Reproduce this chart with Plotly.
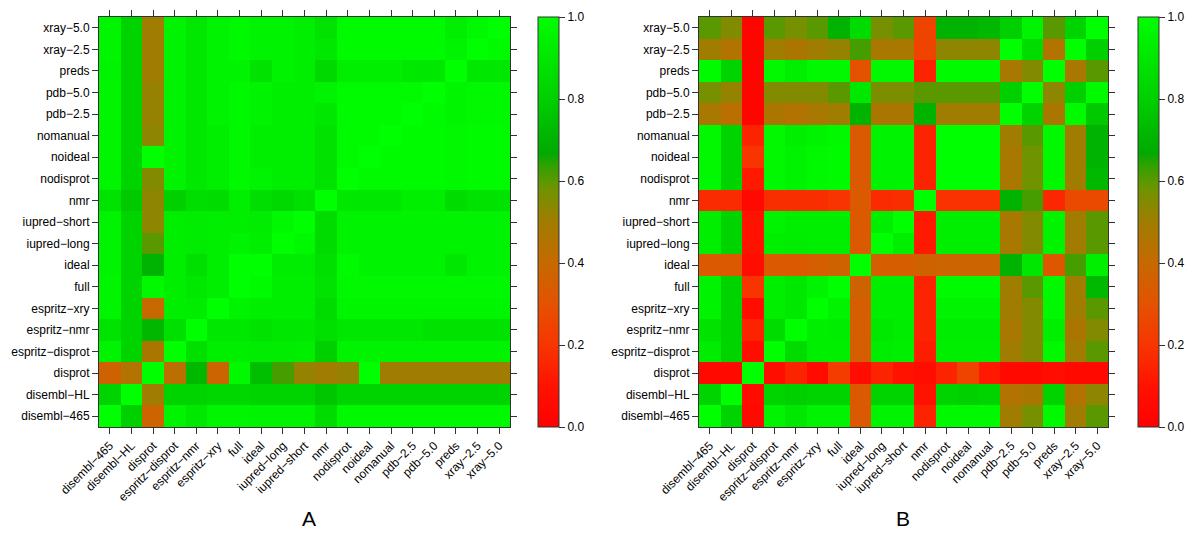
import plotly.graph_objects as go

categories = ["disembl-465", "disembl-HL", "disprot", "espritz-disprot", "espritz-nmr",
              "espritz-xry", "full", "ideal", "iupred-long", "iupred-short", "nmr",
              "nodisprot", "noideal", "nomanual", "pdb-2.5", "pdb-5.0", "preds",
              "xray-2.5", "xray-5.0"]
tick_labels = [c.replace("-", "\u2212") for c in categories]

# Panel A values (rows bottom->top follow categories order, columns follow categories order)
values_a = [
    [1.00, 0.80, 0.38, 0.95, 0.90, 0.96, 0.96, 0.95, 0.95, 0.95, 0.85, 0.97, 0.97, 0.97, 0.97, 0.97, 0.97, 0.97, 0.97],
    [0.82, 1.00, 0.50, 0.82, 0.82, 0.83, 0.83, 0.82, 0.82, 0.82, 0.77, 0.82, 0.82, 0.82, 0.82, 0.82, 0.82, 0.82, 0.82],
    [0.37, 0.45, 1.00, 0.43, 0.72, 0.38, 0.97, 0.74, 0.62, 0.52, 0.50, 0.52, 1.00, 0.50, 0.50, 0.50, 0.50, 0.50, 0.50],
    [0.95, 0.82, 0.47, 1.00, 0.87, 0.93, 0.93, 0.92, 0.92, 0.93, 0.80, 0.95, 0.95, 0.95, 0.95, 0.95, 0.95, 0.95, 0.95],
    [0.88, 0.82, 0.72, 0.87, 1.00, 0.90, 0.90, 0.88, 0.90, 0.90, 0.87, 0.90, 0.90, 0.90, 0.90, 0.88, 0.88, 0.88, 0.88],
    [0.96, 0.82, 0.40, 0.93, 0.92, 1.00, 0.95, 0.93, 0.93, 0.93, 0.85, 0.96, 0.96, 0.96, 0.96, 0.96, 0.96, 0.96, 0.96],
    [0.96, 0.82, 0.97, 0.93, 0.90, 0.93, 1.00, 0.98, 0.93, 0.93, 0.88, 0.97, 0.97, 0.97, 0.97, 0.97, 0.97, 0.97, 0.97],
    [0.95, 0.82, 0.70, 0.93, 0.87, 0.93, 1.00, 1.00, 0.92, 0.92, 0.87, 0.98, 0.95, 0.95, 0.95, 0.95, 0.90, 0.95, 0.95],
    [0.95, 0.82, 0.60, 0.93, 0.92, 0.93, 0.95, 0.93, 1.00, 0.97, 0.85, 0.95, 0.95, 0.95, 0.95, 0.95, 0.95, 0.95, 0.95],
    [0.95, 0.82, 0.53, 0.93, 0.92, 0.93, 0.93, 0.92, 0.97, 1.00, 0.85, 0.95, 0.95, 0.95, 0.95, 0.95, 0.95, 0.95, 0.95],
    [0.88, 0.78, 0.53, 0.80, 0.86, 0.85, 0.93, 0.86, 0.84, 0.87, 1.00, 0.90, 0.90, 0.90, 0.93, 0.93, 0.85, 0.88, 0.88],
    [0.96, 0.82, 0.55, 0.95, 0.90, 0.93, 0.97, 0.95, 0.93, 0.93, 0.88, 1.00, 0.98, 0.98, 0.98, 0.98, 0.97, 0.98, 0.98],
    [0.96, 0.82, 1.00, 0.95, 0.90, 0.93, 0.97, 0.93, 0.93, 0.93, 0.88, 0.98, 1.00, 0.98, 0.98, 0.98, 0.97, 0.98, 0.98],
    [0.96, 0.82, 0.53, 0.95, 0.90, 0.93, 0.97, 0.93, 0.93, 0.93, 0.88, 0.98, 0.98, 1.00, 0.98, 0.98, 0.97, 0.98, 0.98],
    [0.96, 0.82, 0.52, 0.95, 0.90, 0.95, 0.97, 0.95, 0.93, 0.93, 0.90, 0.98, 0.98, 0.98, 1.00, 0.98, 0.96, 0.97, 0.97],
    [0.96, 0.82, 0.52, 0.95, 0.90, 0.95, 0.97, 0.95, 0.93, 0.93, 0.95, 0.98, 0.98, 0.98, 0.98, 1.00, 0.96, 0.97, 0.97],
    [0.95, 0.82, 0.50, 0.95, 0.90, 0.95, 0.95, 0.88, 0.95, 0.93, 0.84, 0.93, 0.93, 0.93, 0.90, 0.90, 1.00, 0.90, 0.90],
    [0.96, 0.82, 0.50, 0.95, 0.90, 0.95, 0.97, 0.95, 0.95, 0.93, 0.90, 0.98, 0.98, 0.98, 0.98, 0.98, 0.95, 1.00, 0.98],
    [0.96, 0.82, 0.50, 0.95, 0.90, 0.95, 0.97, 0.95, 0.95, 0.93, 0.88, 0.98, 0.98, 0.98, 0.98, 0.98, 0.93, 0.97, 1.00],
]

# Panel B values
values_b = [
    [1.00, 0.82, 0.05, 0.95, 0.90, 0.95, 0.95, 0.33, 0.95, 0.95, 0.15, 0.97, 0.97, 0.97, 0.50, 0.57, 0.97, 0.50, 0.60],
    [0.82, 1.00, 0.06, 0.82, 0.80, 0.82, 0.82, 0.33, 0.82, 0.82, 0.10, 0.82, 0.80, 0.82, 0.45, 0.47, 0.82, 0.45, 0.53],
    [0.05, 0.05, 1.00, 0.08, 0.15, 0.06, 0.22, 0.07, 0.15, 0.10, 0.07, 0.15, 0.25, 0.12, 0.05, 0.05, 0.07, 0.05, 0.05],
    [0.92, 0.82, 0.08, 1.00, 0.85, 0.93, 0.93, 0.35, 0.92, 0.93, 0.13, 0.93, 0.93, 0.93, 0.50, 0.55, 0.97, 0.50, 0.60],
    [0.88, 0.82, 0.15, 0.85, 1.00, 0.93, 0.92, 0.35, 0.90, 0.92, 0.15, 0.92, 0.92, 0.92, 0.48, 0.55, 0.93, 0.47, 0.55],
    [0.95, 0.82, 0.07, 0.93, 0.90, 1.00, 0.95, 0.35, 0.93, 0.93, 0.15, 0.95, 0.95, 0.95, 0.50, 0.55, 0.97, 0.50, 0.60],
    [0.95, 0.82, 0.20, 0.93, 0.90, 0.95, 1.00, 0.37, 0.93, 0.93, 0.15, 0.98, 0.98, 0.98, 0.50, 0.60, 0.97, 0.50, 0.72],
    [0.33, 0.33, 0.07, 0.33, 0.33, 0.35, 0.37, 1.00, 0.35, 0.35, 0.37, 0.38, 0.38, 0.38, 0.70, 0.90, 0.32, 0.62, 0.93],
    [0.93, 0.82, 0.10, 0.93, 0.92, 0.93, 0.93, 0.33, 1.00, 0.93, 0.12, 0.93, 0.93, 0.93, 0.48, 0.55, 0.95, 0.50, 0.60],
    [0.93, 0.82, 0.10, 0.95, 0.93, 0.93, 0.93, 0.33, 0.93, 1.00, 0.12, 0.93, 0.93, 0.93, 0.48, 0.55, 0.95, 0.50, 0.60],
    [0.17, 0.17, 0.05, 0.18, 0.18, 0.18, 0.20, 0.33, 0.17, 0.18, 1.00, 0.19, 0.19, 0.19, 0.70, 0.62, 0.16, 0.27, 0.27],
    [0.97, 0.82, 0.12, 0.97, 0.95, 0.97, 0.98, 0.33, 0.95, 0.95, 0.15, 1.00, 1.00, 1.00, 0.48, 0.58, 0.97, 0.50, 0.72],
    [0.97, 0.82, 0.20, 0.97, 0.95, 0.97, 0.98, 0.33, 0.95, 0.95, 0.15, 1.00, 1.00, 1.00, 0.48, 0.58, 0.97, 0.50, 0.70],
    [0.97, 0.82, 0.15, 0.97, 0.93, 0.95, 0.97, 0.33, 0.95, 0.95, 0.15, 1.00, 1.00, 1.00, 0.50, 0.60, 0.97, 0.50, 0.70],
    [0.48, 0.43, 0.03, 0.47, 0.45, 0.48, 0.50, 0.70, 0.47, 0.47, 0.70, 0.50, 0.50, 0.50, 1.00, 0.82, 0.47, 0.98, 0.78],
    [0.57, 0.52, 0.03, 0.55, 0.55, 0.55, 0.60, 0.90, 0.56, 0.56, 0.60, 0.60, 0.60, 0.60, 0.80, 1.00, 0.53, 0.80, 0.98],
    [0.98, 0.82, 0.03, 0.97, 0.93, 0.97, 0.97, 0.30, 0.97, 0.97, 0.15, 0.98, 0.98, 0.98, 0.48, 0.55, 1.00, 0.48, 0.60],
    [0.50, 0.45, 0.03, 0.50, 0.47, 0.50, 0.52, 0.62, 0.48, 0.48, 0.25, 0.53, 0.53, 0.53, 1.00, 0.85, 0.45, 1.00, 0.80],
    [0.60, 0.55, 0.03, 0.60, 0.57, 0.60, 0.70, 0.85, 0.57, 0.60, 0.25, 0.70, 0.70, 0.72, 0.80, 0.95, 0.60, 0.82, 1.00],
]

cbar_ticks = [0.0, 0.2, 0.4, 0.6, 0.8, 1.0]

colorscale = [
    [0.00, "#FF0000"], [0.10, "#FF1200"], [0.20, "#F83500"], [0.30, "#E45200"],
    [0.40, "#C66900"], [0.50, "#A07C00"], [0.58, "#709300"], [0.63, "#3AA000"],
    [0.67, "#00AA00"], [0.80, "#00CF00"], [1.00, "#00FF00"],
]

W, H = 1200, 538
font = dict(family="Liberation Sans, Arial, sans-serif", size=12, color="black")

def px_x(v):
    return v / W

def px_y(v):
    return 1 - v / H

y_dom = [px_y(427), px_y(17)]

fig = go.Figure()

def add_panel(z, xaxis, yaxis, cbx):
    fig.add_trace(go.Heatmap(
        z=z, x=categories, y=categories, xaxis=xaxis, yaxis=yaxis,
        colorscale=colorscale, zmin=0, zmax=1,
        colorbar=dict(
            x=px_x(cbx), xanchor="left", xpad=0, ypad=0,
            y=px_y(222), yanchor="middle", len=410 / H, lenmode="fraction",
            thickness=21, thicknessmode="pixels",
            outlinewidth=1, outlinecolor="#333333",
            tickvals=cbar_ticks, ticktext=[f"{t:.1f}" for t in cbar_ticks],
            ticks="outside", ticklen=6, tickcolor="#333333", tickfont=font,
        ),
    ))

add_panel(values_a, "x", "y", 538)
add_panel(values_b, "x2", "y2", 1138)

axis_common = dict(
    type="category", showline=True, linecolor="#333333", linewidth=1, mirror="ticks",
    ticks="outside", ticklen=6, tickcolor="#333333", tickfont=font,
    showgrid=False, zeroline=False, automargin=False,
    tickvals=categories, ticktext=tick_labels,
)

fig.update_layout(
    width=W, height=H,
    margin=dict(l=0, r=0, t=0, b=0),
    paper_bgcolor="white", plot_bgcolor="white",
    font=font,
    xaxis=dict(domain=[px_x(99), px_x(510)], anchor="y", tickangle=-45, **axis_common),
    yaxis=dict(domain=y_dom, anchor="x", **axis_common),
    xaxis2=dict(domain=[px_x(699), px_x(1108)], anchor="y2", tickangle=-45, **axis_common),
    yaxis2=dict(domain=y_dom, anchor="x2", **axis_common),
    annotations=[
        dict(text="A", x=px_x(309), y=px_y(518), xref="paper", yref="paper",
             xanchor="center", yanchor="middle",
             showarrow=False, font=dict(family=font["family"], size=21, color="black")),
        dict(text="B", x=px_x(903), y=px_y(518), xref="paper", yref="paper",
             xanchor="center", yanchor="middle",
             showarrow=False, font=dict(family=font["family"], size=21, color="black")),
    ],
)

fig.write_html("out.html", config={"displayModeBar": False},
               post_script="document.body.style.margin='0';")
